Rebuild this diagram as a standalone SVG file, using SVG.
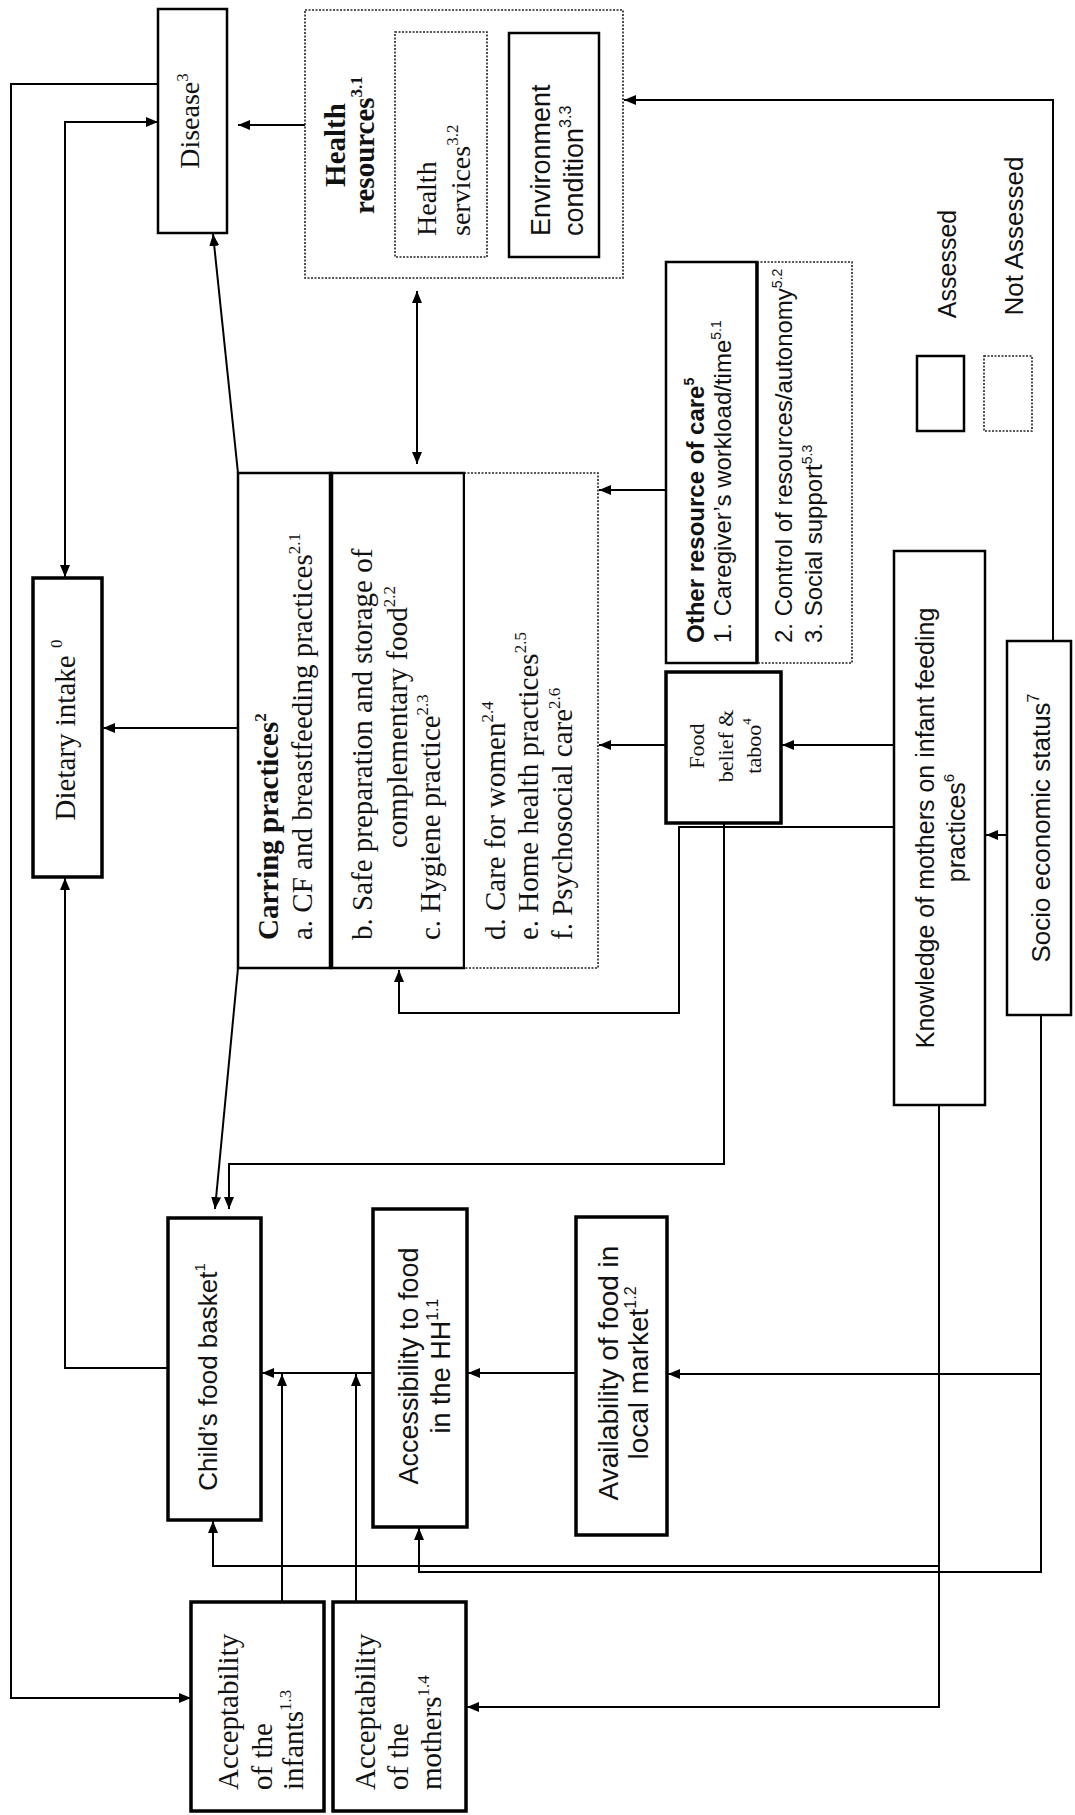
<svg xmlns="http://www.w3.org/2000/svg" width="1075" height="1815" viewBox="0 0 1075 1815">
<defs>
<marker id="ah" viewBox="0 0 12 10" refX="12" refY="5" markerWidth="12" markerHeight="10" markerUnits="userSpaceOnUse" orient="auto-start-reverse"><path d="M0,0 L12,5 L0,10 z" fill="#000"/></marker>
</defs>
<style>
.bx{fill:#fff;stroke:#000;stroke-width:2.5}
.bt{fill:#fff;stroke:#000;stroke-width:3.5}
.dt{fill:#fff;stroke:#222;stroke-width:1.6;stroke-dasharray:2 1.5}
.ln{fill:none;stroke:#000;stroke-width:2}
.ar{fill:none;stroke:#000;stroke-width:2;marker-end:url(#ah)}
.ar2{fill:none;stroke:#000;stroke-width:2;marker-end:url(#ah);marker-start:url(#ah)}
.se{font-family:"Liberation Serif","Times New Roman",serif;fill:#111}
.sa{font-family:"Liberation Sans",Arial,sans-serif;fill:#111}
.b{font-weight:bold}
</style>
<rect width="1075" height="1815" fill="#fff"/>

<g id="connectors">
<path class="ar" d="M158,84 H11 V1698 H191"/>
<path class="ar2" d="M158,122 H65 V577"/>
<path class="ar" d="M168,1368 H65 V878"/>
<path class="ar" d="M238,728 H103"/>
<path class="ar" d="M238,473 L213,234"/>
<path class="ar" d="M305,125 H238"/>
<path class="ar2" d="M417,291 V464"/>
<path class="ar" d="M666,490 H599"/>
<path class="ar" d="M666,745 H599"/>
<path class="ar" d="M894,745 H782"/>
<path class="ar" d="M1007,835 H986"/>
<path class="ar" d="M1053,641 V100 H624"/>
<path class="ar" d="M894,827 H679 V1013 H399 V970"/>
<path class="ar" d="M724,823 V1164 H229 V1209"/>
<path class="ar" d="M238,968 L215,1209"/>
<path class="ar" d="M373,1373 H262"/>
<path class="ar" d="M282,1602 V1374"/>
<path class="ar" d="M356,1602 V1374"/>
<path class="ar" d="M576,1373 H468"/>
<path class="ar" d="M1041,1015 V1572 H419 V1528"/>
<path class="ar" d="M1041,1374 H668"/>
<path class="ar" d="M939,1105 V1707 H467"/>
<path class="ar" d="M939,1566 H213 V1521"/>
</g>

<g id="disease">
<rect class="bx" x="158" y="9" width="69" height="224"/>
<text class="se" font-size="28" text-anchor="middle" transform="translate(199,121) rotate(-90)">Disease<tspan font-size="17" dy="-11">3</tspan></text>
</g>

<g id="health-resources">
<rect class="dt" x="305" y="10" width="318" height="268"/>
<text class="se b" font-size="29" text-anchor="middle" transform="translate(345,145) rotate(-90)">Health</text>
<text class="se b" font-size="29" text-anchor="middle" transform="translate(374,145) rotate(-90)">resources<tspan font-size="17" dy="-12">3.1</tspan></text>
</g>

<g id="health-services">
<rect class="dt" x="395" y="32" width="92" height="225"/>
<text class="se" font-size="28" transform="translate(436,236) rotate(-90)">Health</text>
<text class="se" font-size="28" transform="translate(470,236) rotate(-90)">services<tspan font-size="17" dy="-12">3.2</tspan></text>
</g>

<g id="environment">
<rect class="bx" x="509" y="33" width="90" height="224"/>
<text class="sa" font-size="27" transform="translate(550,236) rotate(-90)">Environment</text>
<text class="sa" font-size="27" transform="translate(583,236) rotate(-90)">condition<tspan font-size="16" dy="-12">3.3</tspan></text>
</g>

<g id="dietary-intake">
<rect class="bt" x="33" y="578" width="69" height="299"/>
<text class="se" font-size="29" text-anchor="middle" transform="translate(75,730) rotate(-90)">Dietary intake <tspan font-size="17" dy="-13">0</tspan></text>
</g>

<g id="caring-practices">
<rect class="bx" x="238" y="473" width="93" height="495"/>
<rect class="bx" x="331" y="473" width="133" height="495"/>
<rect class="dt" x="464" y="473" width="134" height="495"/>
<line class="ln" x1="464" y1="473" x2="464" y2="968"/>
<line x1="331" y1="473" x2="331" y2="968" stroke="#000" stroke-width="4.5"/>
<text class="se b" font-size="29" transform="translate(278,940) rotate(-90)">Carring practices<tspan font-size="17" dy="-12">2</tspan></text>
<text class="se" font-size="29" transform="translate(312,940) rotate(-90)">a. CF and breastfeeding practices<tspan font-size="17" dy="-12">2.1</tspan></text>
<text class="se" font-size="29" transform="translate(372,940) rotate(-90)">b. Safe preparation and storage of</text>
<text class="se" font-size="29" transform="translate(407,848) rotate(-90)">complementary food<tspan font-size="17" dy="-12">2.2</tspan></text>
<text class="se" font-size="29" transform="translate(440,940) rotate(-90)">c. Hygiene practice<tspan font-size="17" dy="-12">2.3</tspan></text>
<text class="se" font-size="29" transform="translate(505,940) rotate(-90)">d. Care for women<tspan font-size="17" dy="-12">2.4</tspan></text>
<text class="se" font-size="29" transform="translate(538,940) rotate(-90)">e. Home health practices<tspan font-size="17" dy="-12">2.5</tspan></text>
<text class="se" font-size="29" transform="translate(572,940) rotate(-90)">f. Psychosocial care<tspan font-size="17" dy="-12">2.6</tspan></text>
</g>

<g id="other-resource">
<rect class="bx" x="666" y="262" width="91" height="401"/>
<rect class="dt" x="757" y="262" width="95" height="401"/>
<line x1="757" y1="262" x2="757" y2="663" stroke="#000" stroke-width="3.5"/>
<text class="sa b" font-size="24" transform="translate(704,643) rotate(-90)">Other resource of care<tspan font-size="14" dy="-10">5</tspan></text>
<text class="sa" font-size="24" transform="translate(731,643) rotate(-90)">1. Caregiver’s workload/time<tspan font-size="14" dy="-10">5.1</tspan></text>
<text class="sa" font-size="24" transform="translate(792,643) rotate(-90)">2. Control of resources/autonomy<tspan font-size="14" dy="-10">5.2</tspan></text>
<text class="sa" font-size="24" transform="translate(822,643) rotate(-90)">3. Social support<tspan font-size="14" dy="-10">5.3</tspan></text>
</g>

<g id="food-belief">
<rect class="bt" x="666" y="672" width="115" height="151"/>
<text class="se" font-size="22" text-anchor="middle" transform="translate(704,746) rotate(-90)">Food</text>
<text class="se" font-size="22" text-anchor="middle" transform="translate(733,746) rotate(-90)">belief &amp;</text>
<text class="se" font-size="22" text-anchor="middle" transform="translate(761,746) rotate(-90)">taboo<tspan font-size="13" dy="-10">4</tspan></text>
</g>

<g id="knowledge">
<rect class="bx" x="894" y="551" width="91" height="554"/>
<text class="sa" font-size="25" text-anchor="middle" transform="translate(934,828) rotate(-90)">Knowledge of mothers on infant feeding</text>
<text class="sa" font-size="25" text-anchor="middle" transform="translate(965,828) rotate(-90)">practices<tspan font-size="15" dy="-11">6</tspan></text>
</g>

<g id="socio-economic">
<rect class="bx" x="1007" y="641" width="64" height="374"/>
<text class="sa" font-size="26" text-anchor="middle" transform="translate(1050,828) rotate(-90)">Socio economic status<tspan font-size="16" dy="-11">7</tspan></text>
</g>

<g id="legend">
<rect class="bx" x="917" y="356" width="47" height="75"/>
<rect class="dt" x="984" y="356" width="48" height="75"/>
<text class="sa" font-size="25" text-anchor="middle" transform="translate(956,264) rotate(-90)">Assessed</text>
<text class="sa" font-size="26" text-anchor="middle" transform="translate(1023,236) rotate(-90)">Not Assessed</text>
</g>

<g id="childs-food-basket">
<rect class="bt" x="168" y="1218" width="93" height="302"/>
<text class="sa" font-size="26" text-anchor="middle" transform="translate(217,1377) rotate(-90)">Child’s food basket<tspan font-size="15" dy="-12">1</tspan></text>
</g>

<g id="accessibility">
<rect class="bt" x="373" y="1209" width="94" height="318"/>
<text class="sa" font-size="27" text-anchor="middle" transform="translate(418,1366) rotate(-90)">Accessibility to food</text>
<text class="sa" font-size="27" text-anchor="middle" transform="translate(450,1366) rotate(-90)">in the HH<tspan font-size="16" dy="-12">1.1</tspan></text>
</g>

<g id="availability">
<rect class="bt" x="576" y="1217" width="91" height="318"/>
<text class="sa" font-size="28" text-anchor="middle" transform="translate(618,1373) rotate(-90)">Availability of food in</text>
<text class="sa" font-size="28" text-anchor="middle" transform="translate(648,1373) rotate(-90)">local market<tspan font-size="16" dy="-12">1.2</tspan></text>
</g>

<g id="acceptability-infants">
<rect class="bt" x="191" y="1602" width="133" height="209"/>
<text class="se" font-size="29" transform="translate(238,1790) rotate(-90)">Acceptability</text>
<text class="se" font-size="29" transform="translate(272,1790) rotate(-90)">of the</text>
<text class="se" font-size="29" transform="translate(303,1790) rotate(-90)">infants<tspan font-size="17" dy="-12">1.3</tspan></text>
</g>

<g id="acceptability-mothers">
<rect class="bt" x="333" y="1602" width="133" height="209"/>
<text class="se" font-size="29" transform="translate(375,1790) rotate(-90)">Acceptability</text>
<text class="se" font-size="29" transform="translate(408,1790) rotate(-90)">of the</text>
<text class="se" font-size="29" transform="translate(441,1790) rotate(-90)">mothers<tspan font-size="17" dy="-12">1.4</tspan></text>
</g>
</svg>
